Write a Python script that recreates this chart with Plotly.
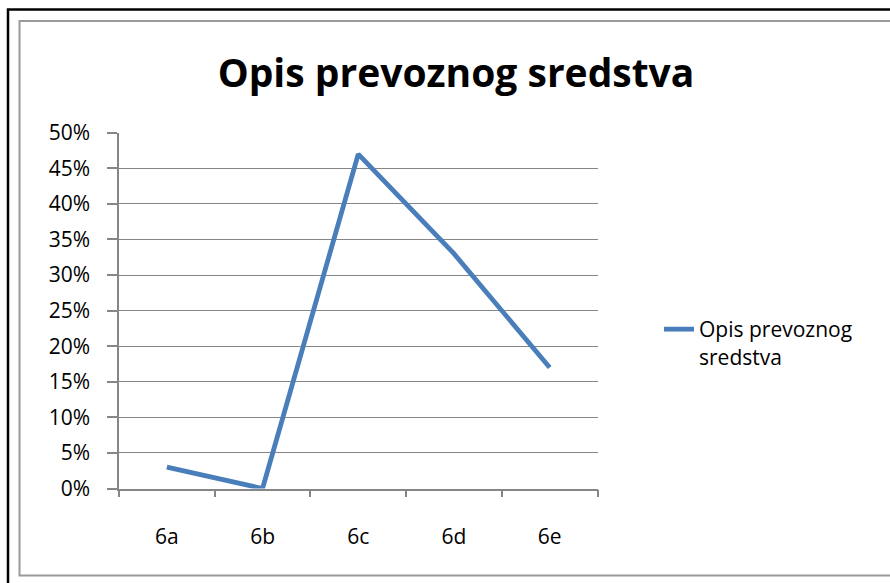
import plotly.graph_objects as go

categories = ["6a", "6b", "6c", "6d", "6e"]
values = [0.03, 0.0, 0.47, 0.33, 0.17]
series_name = "Opis prevoznog sredstva"
y_ticks = [0, 0.05, 0.10, 0.15, 0.20, 0.25, 0.30, 0.35, 0.40, 0.45, 0.50]
y_ticklabels = ["0%", "5%", "10%", "15%", "20%", "25%", "30%", "35%", "40%", "45%", "50%"]

W, H = 890, 583
FONT = "Open Sans"

fig = go.Figure()
fig.add_trace(go.Scatter(
    x=categories, y=values, mode="lines",
    name="Opis prevoznog<br>sredstva",
    line=dict(color="#4A7EBB", width=4.8),
))

def px_x(v):
    return v / W

def px_y(v):
    return 1 - v / H

fig.update_layout(
    width=W, height=H,
    margin=dict(l=0, r=0, t=0, b=0),
    paper_bgcolor="white", plot_bgcolor="white",
    font=dict(family=FONT, color="black", size=21),
    title=dict(text="<b>Opis prevoznog sredstva</b>", x=456 / W, xanchor="center",
               y=px_y(73), yanchor="middle", font=dict(family=FONT, size=39, color="black")),
    showlegend=True,
    legend=dict(x=px_x(659), y=px_y(343), xanchor="left", yanchor="middle", valign="top",
                font=dict(family=FONT, size=21, color="black"), bgcolor="rgba(0,0,0,0)"),
    xaxis=dict(
        domain=[px_x(119), px_x(597.5)],
        type="category", tickson="boundaries",
        showgrid=False, showline=True, linecolor="#868686", linewidth=1.5,
        ticks="outside", ticklen=7, tickcolor="#868686", tickwidth=1.5,
        ticklabelstandoff=29, automargin=False,
        range=[-0.5, 4.5],
    ),
    yaxis=dict(
        domain=[px_y(488.5), px_y(132.7)],
        range=[0, 0.5], tickvals=y_ticks, ticktext=y_ticklabels,
        showgrid=True, gridcolor="#868686", gridwidth=1.2,
        showline=True, linecolor="#868686", linewidth=1.5,
        ticks="outside", ticklen=10, tickcolor="#868686", tickwidth=1.5,
        ticklabelstandoff=13, automargin=False, zeroline=False,
    ),
    shapes=[
        dict(type="rect", xref="paper", yref="paper",
             x0=px_x(8), x1=px_x(895), y0=px_y(595), y1=px_y(9.5),
             line=dict(color="black", width=2.5)),
        dict(type="rect", xref="paper", yref="paper",
             x0=px_x(19.5), x1=px_x(895), y0=px_y(575.5), y1=px_y(21),
             line=dict(color="#9A9A9A", width=2)),
    ],
)

fig.write_html("out.html", config={"displayModeBar": False},
               post_script="document.body.style.margin='0px';")
